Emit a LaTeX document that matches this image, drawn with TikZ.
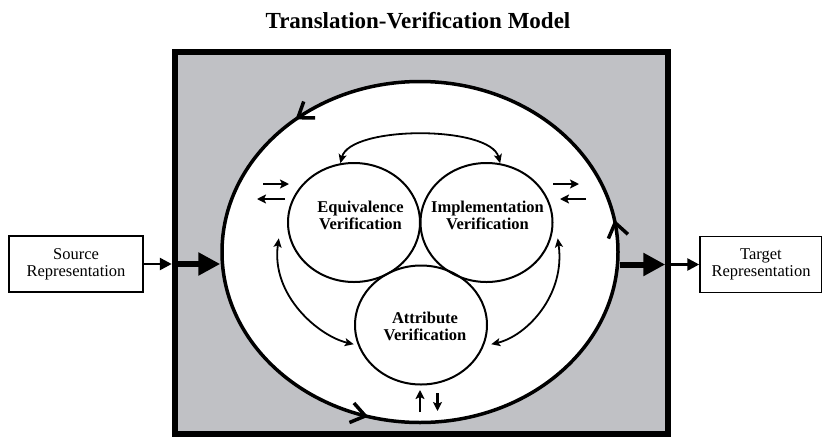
\documentclass[tikz,border=0pt]{standalone}
\usepackage{fontspec}
\setmainfont{Liberation Serif}
\usetikzlibrary{arrows.meta,shapes.geometric,calc,decorations.markings}
\definecolor{framegray}{RGB}{192,193,197}

\tikzset{
  reprbox/.style={draw, line width=1.5pt, minimum height=56pt, align=center, inner sep=0pt,
    font=\fontsize{16.5}{17}\selectfont},
  vcircle/.style={draw, ellipse, line width=2pt, minimum width=132pt, minimum height=119pt, inner sep=0pt},
  vtext/.style={align=center, inner sep=0pt, font=\bfseries\fontsize{16.5}{17}\selectfont},
  vlink/.style={line width=1.8pt, {Stealth[length=9pt,width=8pt,inset=2pt]}-{Stealth[length=9pt,width=8pt,inset=2pt]}},
  pairarrow/.style={line width=2.6pt, -{Stealth[length=9pt,width=9pt,inset=2pt]}},
  feedarrow/.style={line width=2.6pt, -{Triangle[length=12pt,width=12pt]}},
  bigfeedarrow/.style={line width=6pt, -{Triangle[length=22pt,width=22pt]}},
  ringtip/.style={decoration={markings,
    mark=at position 0.028 with {\pgfsetlinewidth{3.5pt}\arrow{Straight Barb[length=14pt,width=20pt]}},
    mark=at position 0.364 with {\pgfsetlinewidth{3.5pt}\arrow{Straight Barb[length=14pt,width=20pt]}},
    mark=at position 0.705 with {\pgfsetlinewidth{3.5pt}\arrow{Straight Barb[length=14pt,width=20pt]}}},
    postaction={decorate}},
}

\begin{document}
\begin{tikzpicture}[x=1pt,y=-1pt]
  \useasboundingbox (0,0) rectangle (822,437);

  \node[font=\bfseries\fontsize{23}{25}\selectfont] (title) at (418,20.5) {Translation-Verification Model};

  \node[draw, line width=6.5pt, fill=framegray, minimum width=493pt, minimum height=382pt, inner sep=0pt] (frame) at (421.5,243) {};
  \node[draw, ellipse, line width=3.5pt, fill=white, minimum width=396pt, minimum height=341pt, inner sep=0pt,
    ringtip] (loopring) at (420,252) {};

  \node[reprbox, minimum width=134pt] (src) at (76,264) {Source\\Representation};
  \node[reprbox, minimum width=122pt] (tgt) at (761,264.5) {Target\\Representation};

  \node[vcircle] (equiv) at (354,222.5) {};
  \node[vcircle] (impl) at (486.5,222.5) {};
  \node[vcircle] (attrib) at (421,325) {};
  \node[vtext] (equivtext) at (360.5,215.5) {Equivalence\\Verification};
  \node[vtext] (impltext) at (487.5,215.5) {Implementation\\Verification};
  \node[vtext] (attribtext) at (425,326) {Attribute\\Verification};

  \draw[feedarrow] (src.east) -- (src.east -| frame.west);
  \draw[bigfeedarrow] ($(src.east -| frame.west)+(6,0)$) -- (src.east -| loopring.west);
  \draw[bigfeedarrow] (tgt.west -| loopring.east) -- ($(tgt.west -| frame.east)+(-6,0)$);
  \draw[feedarrow] (tgt.west -| frame.east) -- (tgt.west);

  \draw[vlink] (equiv.103) .. controls +(10,-38) and +(-10,-38) .. (impl.77);
  \draw[vlink] ($(equiv.192)+(-10,2)$) .. controls +(-8,57) and +(-35,-8) .. ($(attrib.195)+(-3,2)$);
  \draw[vlink] ($(impl.-12)+(6,2)$) .. controls +(8,57) and +(35,-8) .. ($(attrib.-15)+(6,2)$);

  \draw[pairarrow] (263,184) -- (289,184);
  \draw[pairarrow] (285,199) -- (257,199);
  \draw[pairarrow] (553,184) -- (579,184);
  \draw[pairarrow] (586,199) -- (560,199);
  \draw[pairarrow] (420,412) -- (420,390);
  \draw[pairarrow] (437.5,393) -- (437.5,411);
\end{tikzpicture}
\end{document}
